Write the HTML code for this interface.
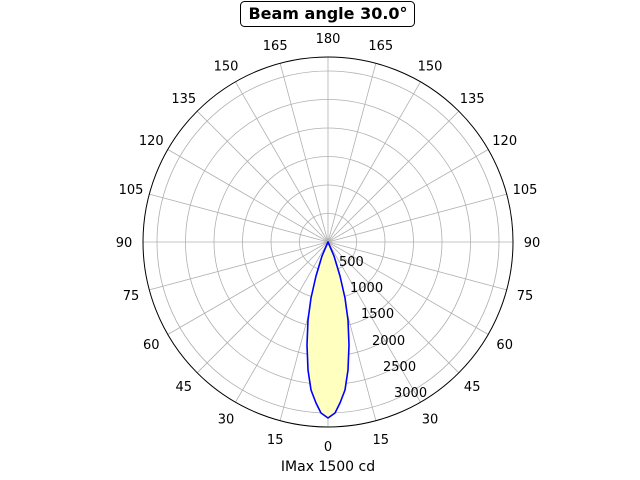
<!DOCTYPE html>
<html><head><style>body{margin:0;background:#fff}svg{display:block}</style></head><body>
<svg width="640" height="480" xmlns="http://www.w3.org/2000/svg" font-family="DejaVu Sans, Liberation Sans, sans-serif">
<g stroke="#b0b0b0" stroke-width="0.8" fill="none">
<circle cx="328" cy="242" r="28.5"/><circle cx="328" cy="242" r="57"/><circle cx="328" cy="242" r="85.5"/>
<circle cx="328" cy="242" r="114"/><circle cx="328" cy="242" r="142.5"/><circle cx="328" cy="242" r="171"/>
<g id="sp"></g>
</g>
<path d="M328,242 L322,256 L316,276 L311,298 L308,320 L307,345 L308,370 L311,390 L316,403 L321,413 L328,418 L335,413 L340,403 L345,390 L348,370 L349,345 L348,320 L345,298 L340,276 L334,256 Z" fill="#ffffc0" stroke="#0000ff" stroke-width="1.6" stroke-linejoin="round"/>
<circle cx="328" cy="242" r="185" fill="none" stroke="#000" stroke-width="1"/>
<g id="lab" font-size="13" text-anchor="middle" fill="#000"></g>
<g font-size="13" fill="#000">
<text x="339" y="266">500</text><text x="350" y="292">1000</text><text x="361" y="318">1500</text>
<text x="372" y="345">2000</text><text x="383" y="371">2500</text><text x="394" y="397">3000</text>
</g>
<rect x="240.5" y="1.5" width="174" height="25" rx="4" fill="#fff" stroke="#000"/>
<text x="328" y="19" font-size="16" font-weight="bold" text-anchor="middle">Beam angle 30.0°</text>
<text x="328" y="471" font-size="14" text-anchor="middle">IMax 1500 cd</text>
<script>
var sp=document.getElementById('sp'),lab=document.getElementById('lab'),ns='http://www.w3.org/2000/svg';
for(var a=0;a<360;a+=15){var t=a*Math.PI/180,dx=Math.sin(t),dy=Math.cos(t);
var l=document.createElementNS(ns,'line');l.setAttribute('x1',328);l.setAttribute('y1',242);
l.setAttribute('x2',328+185*dx);l.setAttribute('y2',242+185*dy);sp.appendChild(l);
var v=a<=180?a:360-a;var tx=document.createElementNS(ns,'text');
tx.setAttribute('x',(328+204*dx).toFixed(1));tx.setAttribute('y',(242+204*dy+5).toFixed(1));
tx.textContent=v;lab.appendChild(tx);}
</script>
</svg>
</body></html>
